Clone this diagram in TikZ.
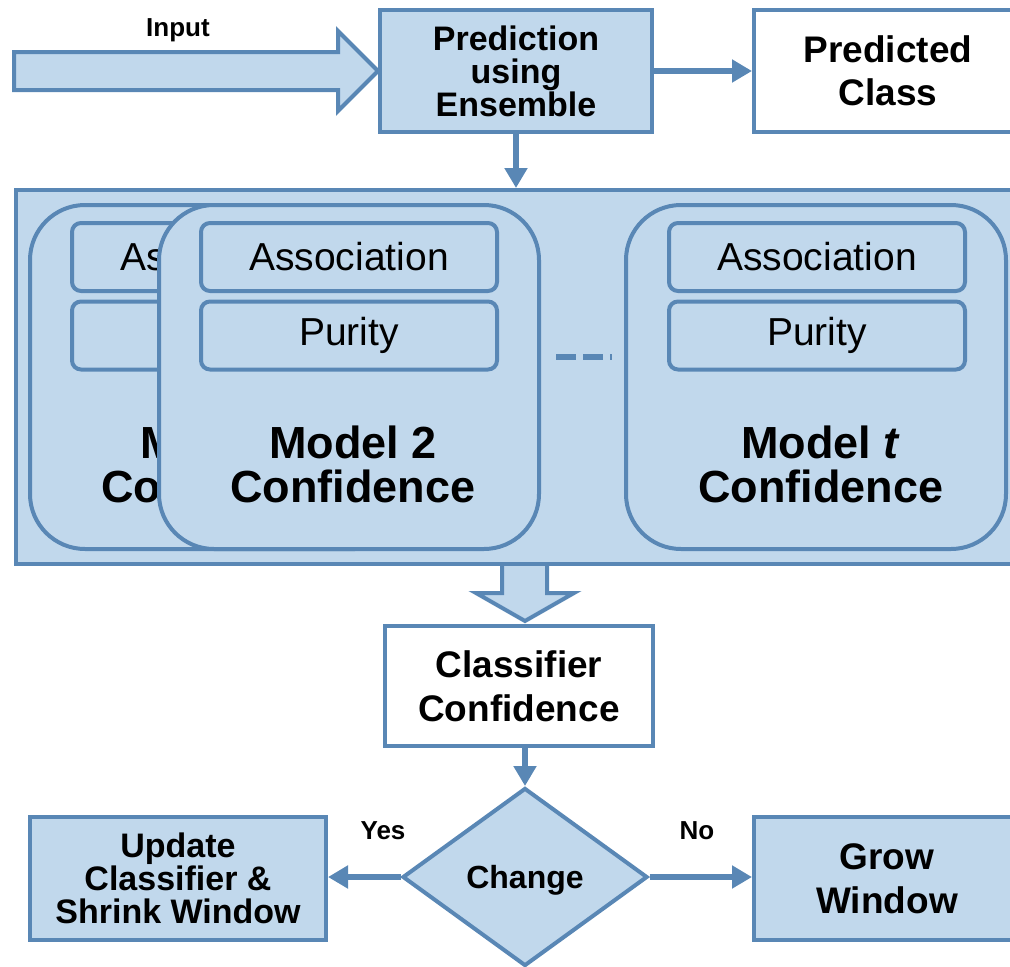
\documentclass[tikz,border=0pt]{standalone}
\usepackage{fontspec}
\setmainfont{Liberation Sans}
\usetikzlibrary{arrows.meta,shapes.geometric,calc}
\definecolor{edge}{RGB}{89,135,181}
\definecolor{pale}{RGB}{193,216,236}
\begin{document}
\begin{tikzpicture}[x=1pt,y=-1pt,
  bluebox/.style={draw=edge,fill=pale,line width=4pt,inner sep=0pt,align=center},
  whitebox/.style={draw=edge,fill=white,line width=4pt,inner sep=0pt,align=center},
  card/.style={draw=edge,fill=pale,line width=4pt,rounded corners=55pt,inner sep=0pt,
    minimum width=380pt,minimum height=344pt},
  field/.style={draw=edge,fill=pale,line width=4pt,rounded corners=9pt,inner sep=0pt,
    minimum width=296pt,minimum height=68pt,font=\fontsize{39}{40}\selectfont},
  caption/.style={align=center,inner sep=0pt,font=\bfseries\fontsize{45}{44}\selectfont},
  flow/.style={draw=edge,line width=5.5pt,-{Triangle[length=20pt,width=22pt]}},
  fat/.style={draw=edge,fill=pale,line width=4pt,line join=miter},
  tag/.style={inner sep=0pt,font=\bfseries\fontsize{26}{28}\selectfont}
]
\path[use as bounding box] (0,0) rectangle (1010,967);
\clip (0,0) rectangle (1010,967);

% top row
\node[bluebox,minimum width=272pt,minimum height=122pt,
  font=\bfseries\fontsize{34}{33}\selectfont] (pred) at (516,71)
  {Prediction\\using\\Ensemble};
\node[whitebox,minimum width=268pt,minimum height=122pt,
  font=\bfseries\fontsize{37}{43}\selectfont] (pcls) at (888,71)
  {Predicted\\Class};
\node[tag] (inlabel) at (178,30) {Input};

% broad input arrow ending at the prediction box
\coordinate (intail) at (14,71);
\path[fat] (intail) ++(0,-19) -- (338,52) -- (338,31) -- (pred.west)
  -- (338,111) -- (338,90) -- ($(intail)+(0,19)$) -- cycle;

\draw[flow] (pred) -- (pcls);

% ensemble container
\node[bluebox,minimum width=1012pt,minimum height=374pt] (ens) at (522,377) {};
\draw[flow] (pred.south) -- (pred.south |- ens.north);

% model 1 (partly covered)
\node[card] (m1) at (220,377) {};
\node[field] (a1) at (220,257) {Association};
\node[field] (p1) at (220,335.5) {Purity};
\node[caption] (c1) at (224,464) {Model 1\\Confidence};

% model 2
\node[card] (m2) at (349,377) {};
\node[field] (a2) at (349,257) {Association};
\node[field] (p2) at (349,335.5) {Purity};
\node[caption] (c2) at (353,464) {Model 2\\Confidence};

% model t
\node[card] (mt) at (816,377) {};
\node[field] (at) at (817,257) {Association};
\node[field] (pt) at (817,335.5) {Purity};
\node[caption] (ct) at (821,464) {Model \textit{t}\\Confidence};

% ellipsis between the models
\draw[edge,line width=6pt,dash pattern=on 20pt off 7pt] (556,357) -- (612,357);

% classifier confidence
\node[whitebox,minimum width=268pt,minimum height=120pt,
  font=\bfseries\fontsize{37}{44}\selectfont] (clf) at (519,686)
  {Classifier\\Confidence};

% hollow arrow from the container to the classifier box
\fill[pale] (502,566) -- (502,593) -- (476,593) -- (525,621) -- (574,593)
  -- (547,593) -- (547,566) -- cycle;
\draw[edge,line width=4pt,line join=miter] (502,566) -- (502,593) -- (476,593)
  -- (525,621) -- (574,593) -- (547,593) -- (547,566);

% decision
\node[diamond,draw=edge,fill=pale,line width=4pt,inner sep=0pt,text depth=0pt,
  minimum width=245pt,minimum height=178pt,
  font=\bfseries\fontsize{32}{34}\selectfont] (chg) at (525,877) {Change};
\draw[flow] (clf.south -| chg.north) -- (chg.north);

\node[bluebox,minimum width=296pt,minimum height=123pt,
  font=\bfseries\fontsize{34}{33}\selectfont] (upd) at (178,878.5)
  {Update\\Classifier \&\\Shrink Window};
\node[bluebox,minimum width=266pt,minimum height=123pt,
  font=\bfseries\fontsize{37}{44}\selectfont] (grow) at (887,878.5)
  {Grow\\Window};

\draw[flow] (chg.west) -- (chg.west -| upd.east);
\draw[flow] (chg.east) -- (chg.east -| grow.west);
\node[tag] (yes) at (383,831) {Yes};
\node[tag] (no) at (697,831) {No};
\end{tikzpicture}
\end{document}
